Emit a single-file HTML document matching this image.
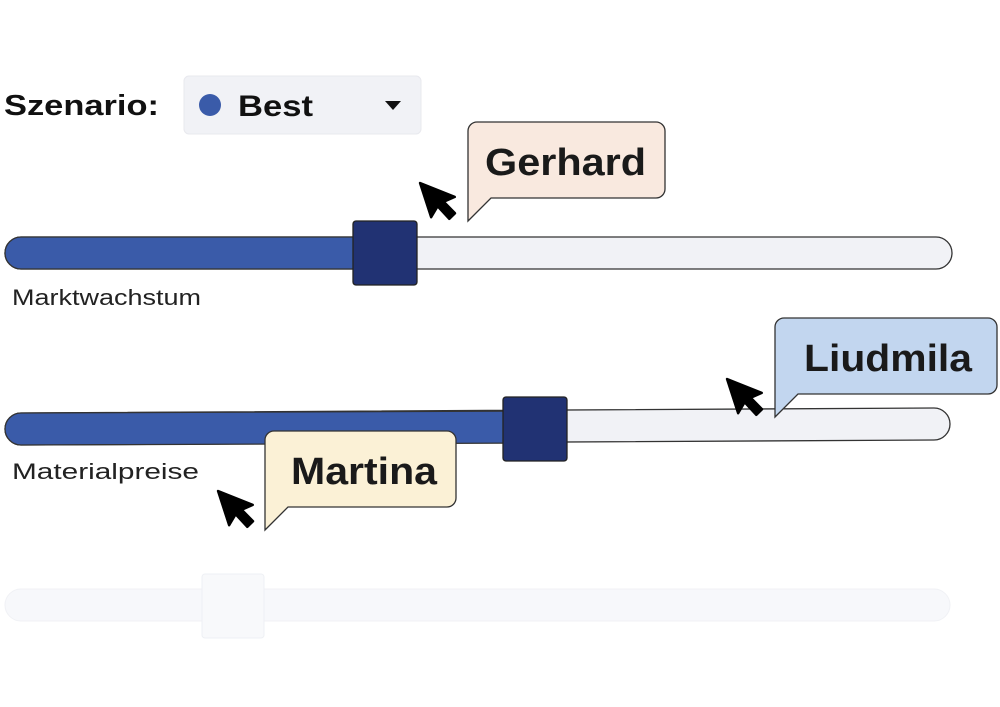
<!DOCTYPE html>
<html><head><style>body{margin:0;background:#fff}svg{display:block}</style></head><body>
<svg width="1000" height="707" viewBox="0 0 1000 707" font-family="Liberation Sans, Arial, sans-serif">
<defs>
<g id="cur"><path d="M0,0 L0,30 L8,23 L14,36 L20,33 L14,21 L24,20 Z" fill="#000" stroke="#000" stroke-width="2" stroke-linejoin="round"/></g>
</defs>
<text x="4" y="115" font-size="29" font-weight="bold" fill="#111" textLength="155" lengthAdjust="spacingAndGlyphs">Szenario:</text>
<rect x="184" y="76" width="237" height="58" rx="5" fill="#f1f2f6" stroke="#e8e9ee"/>
<circle cx="210" cy="105" r="11" fill="#3a5ba9"/>
<text x="238" y="116" font-size="30" font-weight="bold" fill="#111" textLength="75" lengthAdjust="spacingAndGlyphs">Best</text>
<path d="M385,101 L401,101 L393,110 Z" fill="#111"/>

<!-- slider 1 -->
<rect x="5" y="237" width="947" height="32" rx="16" fill="#f1f2f6" stroke="#333" stroke-width="1.3"/>
<path d="M21,237 L385,237 L385,269 L21,269 A16,16 0 0 1 21,237 Z" fill="#3a5ba9" stroke="#333" stroke-width="1.3"/>
<rect x="353" y="221" width="64" height="64" rx="3" fill="#213273" stroke="#222" stroke-width="1.3"/>
<text x="12" y="305" font-size="22" fill="#222" textLength="189" lengthAdjust="spacingAndGlyphs">Marktwachstum</text>

<!-- slider 2 -->
<path d="M21,413 L934,408 A16,16 0 0 1 934,440 L21,445 A16,16 0 0 1 21,413 Z" fill="#f1f2f6" stroke="#333" stroke-width="1.3"/>
<path d="M21,413 L535,411 L535,443 L21,445 A16,16 0 0 1 21,413 Z" fill="#3a5ba9" stroke="#333" stroke-width="1.3"/>
<rect x="503" y="397" width="64" height="64" rx="3" fill="#213273" stroke="#222" stroke-width="1.3"/>
<text x="12" y="479" font-size="22" fill="#222" textLength="187" lengthAdjust="spacingAndGlyphs">Materialpreise</text>

<!-- faded slider 3 -->
<rect x="5" y="589" width="945" height="32" rx="16" fill="#f7f8fb" stroke="#f0f1f5"/>
<rect x="202" y="574" width="62" height="64" rx="3" fill="#f8f9fb" stroke="#eef0f4"/>

<!-- Gerhard -->
<path d="M477,122 L656,122 A9,9 0 0 1 665,131 L665,189 A9,9 0 0 1 656,198 L491,198 L468,221 L468,131 A9,9 0 0 1 477,122 Z" fill="#f9e9df" stroke="#333" stroke-width="1.3"/>
<text x="485" y="175" font-size="38" font-weight="bold" fill="#1a1a1a" textLength="161" lengthAdjust="spacingAndGlyphs">Gerhard</text>
<use href="#cur" transform="translate(420,183) rotate(-18) scale(1.2)"/>

<!-- Liudmila -->
<path d="M784,318 L988,318 A9,9 0 0 1 997,327 L997,385 A9,9 0 0 1 988,394 L798,394 L775,417 L775,327 A9,9 0 0 1 784,318 Z" fill="#c2d6ef" stroke="#333" stroke-width="1.3"/>
<text x="804" y="371" font-size="38" font-weight="bold" fill="#1a1a1a" textLength="168" lengthAdjust="spacingAndGlyphs">Liudmila</text>
<use href="#cur" transform="translate(727,379) rotate(-18) scale(1.2)"/>

<!-- Martina -->
<path d="M274,431 L447,431 A9,9 0 0 1 456,440 L456,498 A9,9 0 0 1 447,507 L288,507 L265,530 L265,440 A9,9 0 0 1 274,431 Z" fill="#fbf1d6" stroke="#333" stroke-width="1.3"/>
<text x="291" y="484" font-size="38" font-weight="bold" fill="#1a1a1a" textLength="146" lengthAdjust="spacingAndGlyphs">Martina</text>
<use href="#cur" transform="translate(218,491) rotate(-18) scale(1.2)"/>
</svg>
</body></html>
